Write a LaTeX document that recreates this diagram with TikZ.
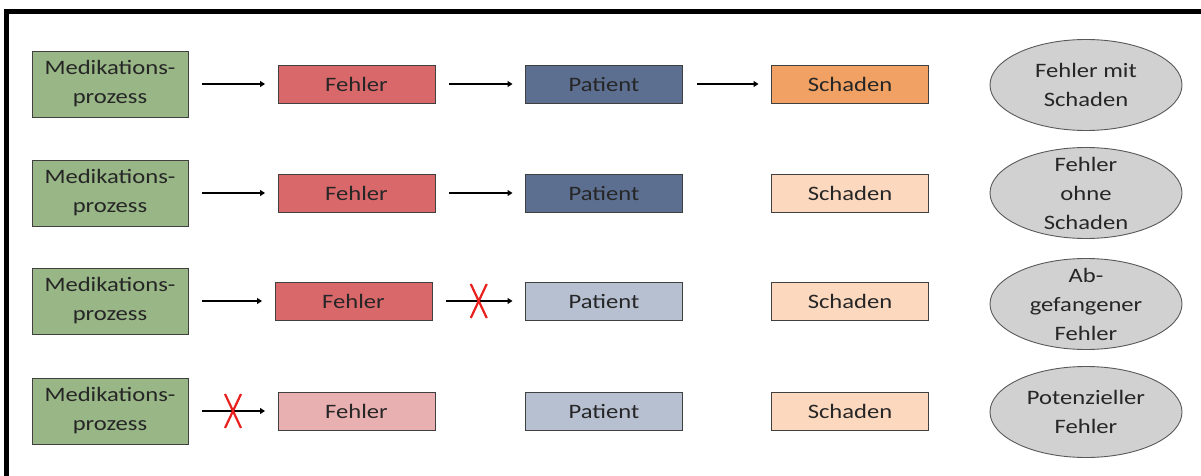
\documentclass[tikz,border=0pt]{standalone}
\usepackage{fontspec}
\setmainfont{Carlito}[FakeStretch=1.2]
\usepackage{tikz}
\usetikzlibrary{arrows.meta,shapes.geometric}

\definecolor{medgruen}{HTML}{98B686}
\definecolor{fehlerrot}{HTML}{D9686A}
\definecolor{fehlerhell}{HTML}{E9B0B1}
\definecolor{patblau}{HTML}{5C6F91}
\definecolor{pathell}{HTML}{B7C0D1}
\definecolor{schadenorange}{HTML}{F0A163}
\definecolor{schadenhell}{HTML}{FBD8BE}
\definecolor{typgrau}{HTML}{D1D1D1}
\definecolor{kreuzrot}{HTML}{E8211F}

\tikzset{
  kasten/.style={draw=black!75, line width=0.9pt, inner sep=0pt, outer sep=0pt,
    minimum width=157pt, minimum height=38pt, text=black!85,
    font=\fontsize{20.5}{29}\selectfont},
  prozess/.style={kasten, fill=medgruen, minimum width=156pt, minimum height=66pt, align=center},
  typ/.style={ellipse, draw=black!65, line width=0.9pt, fill=typgrau, inner sep=-14pt,
    minimum width=192pt, minimum height=91pt, align=center, text=black!85,
    font=\fontsize{20.5}{29}\selectfont},
  pfeil/.style={-{Triangle[length=5pt,width=6pt]}, line width=2.6pt,
    shorten <=14pt, shorten >=13pt},
  kreuz/.style={draw=kreuzrot, line width=2.2pt}
}

\begin{document}
\begin{tikzpicture}[x=1pt,y=-1pt]
  \useasboundingbox (0,0) rectangle (1201,476);
  \draw[line width=5pt] (6.5,476) -- (6.5,11.5) -- (1201,11.5);

  % Fehler mit Schaden
  \node[prozess] (med1) at (110,84) {Medikations-\\prozess};
  \node[kasten, fill=fehlerrot] (fehler1) at (356.5,84) {Fehler};
  \node[kasten, fill=patblau] (patient1) at (604,84) {Patient};
  \node[kasten, fill=schadenorange] (schaden1) at (850,84) {Schaden};
  \node[typ] (typ1) at (1086,85) {Fehler mit\\Schaden};
  \draw[pfeil] (med1) -- (fehler1);
  \draw[pfeil] (fehler1) -- (patient1);
  \draw[pfeil] (patient1) -- (schaden1);

  % Fehler ohne Schaden
  \node[prozess] (med2) at (110,193) {Medikations-\\prozess};
  \node[kasten, fill=fehlerrot] (fehler2) at (356.5,193) {Fehler};
  \node[kasten, fill=patblau] (patient2) at (604,193) {Patient};
  \node[kasten, fill=schadenhell] (schaden2) at (850,193) {Schaden};
  \node[typ] (typ2) at (1086,193) {Fehler\\ohne\\Schaden};
  \draw[pfeil] (med2) -- (fehler2);
  \draw[pfeil] (fehler2) -- (patient2);

  % Abgefangener Fehler
  \node[prozess] (med3) at (110,301) {Medikations-\\prozess};
  \node[kasten, fill=fehlerrot] (fehler3) at (353.5,301) {Fehler};
  \node[kasten, fill=pathell] (patient3) at (604,301) {Patient};
  \node[kasten, fill=schadenhell] (schaden3) at (850,301) {Schaden};
  \node[typ] (typ3) at (1086,304) {Ab-\\gefangener\\Fehler};
  \draw[pfeil] (med3) -- (fehler3);
  \draw[pfeil] (fehler3) -- (patient3) coordinate[midway] (stop3);
  \draw[kreuz] ([shift={(-8,-17)}]stop3) -- ([shift={(8,17)}]stop3);
  \draw[kreuz] ([shift={(8,-17)}]stop3) -- ([shift={(-8,17)}]stop3);

  % Potenzieller Fehler
  \node[prozess] (med4) at (110,411) {Medikations-\\prozess};
  \node[kasten, fill=fehlerhell] (fehler4) at (356.5,411) {Fehler};
  \node[kasten, fill=pathell] (patient4) at (604,411) {Patient};
  \node[kasten, fill=schadenhell] (schaden4) at (850,411) {Schaden};
  \node[typ] (typ4) at (1086,412) {Potenzieller\\Fehler};
  \draw[pfeil] (med4) -- (fehler4) coordinate[midway] (stop4);
  \draw[kreuz] ([shift={(-8,-17)}]stop4) -- ([shift={(8,17)}]stop4);
  \draw[kreuz] ([shift={(8,-17)}]stop4) -- ([shift={(-8,17)}]stop4);
\end{tikzpicture}
\end{document}
